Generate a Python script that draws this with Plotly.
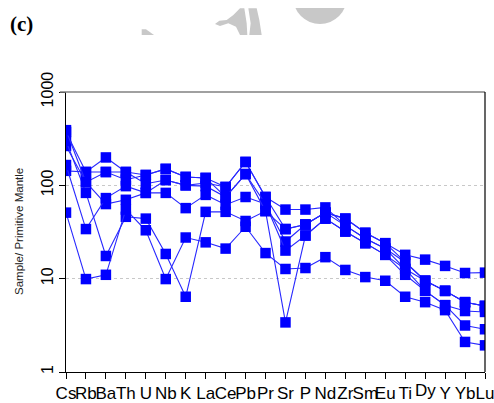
import plotly.graph_objects as go

elements = ["Cs", "Rb", "Ba", "Th", "U", "Nb", "K", "La", "Ce", "Pb", "Pr",
            "Sr", "P", "Nd", "Zr", "Sm", "Eu", "Ti", "Dy", "Y", "Yb", "Lu"]

s1 = [143, 139, 139, 139, 129, 150, 123, 120, 96, 178, 75, 34, 38, 51, 44, 31, 24, 18, 16, 13.7, 11.5, 11.6]
s2 = [373, 139, 199, 139, 104, 114, 100, 106, 96, 178, 75, 55, 55, 58, 37, 27, 21, 15, 9.5, 7.4, 5.6, 5.1]
s3 = [264, 108, 63, 70, 83, 114, 100, 98, 75, 132, 63, 25, 38, 51, 37, 27, 21, 12.7, 9.5, 7.4, 5.6, 5.1]
s4 = [165, 34, 73, 98, 83, 83, 57, 79, 62, 75, 63, 20, 29, 44, 32, 24, 18, 12.7, 7.4, 5.2, 4.5, 4.4]
s5 = [300, 83, 17.5, 46, 44, 18.4, 6.4, 52, 52, 41.5, 53, 3.4, 29, 44, 32, 24, 18, 11, 7.4, 5.2, 3.15, 2.87]
s6 = [51, 9.9, 11, 55, 33, 9.9, 27.6, 24.5, 21, 36, 18.8, 12.7, 13, 17, 12.4, 10.4, 9.5, 6.4, 5.6, 4.6, 2.1, 1.93]
s7 = [390, 108, 139, 115, 129, 150, 123, 120, 75, 132, 53, 34, 38, 51, 44, 31, 24, 15, 9.5, 7.4, 5.6, 5.1]
samples = [s1, s2, s3, s4, s5, s6, s7]

y_ticks = [1, 10, 100, 1000]
y_title = "Sample/ Primitive Mantle"
panel_label = "(c)"

W, H = 494, 403
L, R, T, B = 66, 485, 92, 372


def fx(px):
    return (px - L) / (R - L)


def fy(py):
    return (B - py) / (B - T)


xs = list(range(len(elements)))
fig = go.Figure()
for s in samples:
    fig.add_trace(go.Scatter(
        x=xs, y=s, mode="lines+markers",
        line=dict(color="rgb(40,40,255)", width=1.1),
        marker=dict(symbol="square", size=10.5, color="#0000ff", line=dict(width=0)),
        showlegend=False, hoverinfo="skip"))

ticktext = [e if e != "Dy" else "" for e in elements]

fig.update_layout(
    width=W, height=H,
    margin=dict(l=L, r=W - R, t=T, b=H - B, autoexpand=False),
    paper_bgcolor="white", plot_bgcolor="white",
    font=dict(family="Liberation Sans, Arial, sans-serif", color="black"),
    xaxis=dict(range=[0, len(elements) - 1], tickmode="array", tickvals=xs,
               ticktext=ticktext, ticks="outside", ticklen=6, tickcolor="black",
               showline=True, linecolor="black", linewidth=1, showgrid=False,
               zeroline=False, tickfont=dict(size=17), tickangle=0,
               automargin=False, ticklabeloverflow="allow"),
    yaxis=dict(type="log", range=[0, 3], tickmode="array", tickvals=y_ticks,
               ticktext=[str(v) for v in y_ticks], ticks="outside", ticklen=6,
               tickcolor="black", showline=True, linecolor="black", linewidth=1,
               showgrid=True, gridcolor="#c8c8c8", griddash="dot", gridwidth=1,
               zeroline=False, tickfont=dict(size=16), tickangle=-90,
               automargin=False, ticklabeloverflow="allow"),
)

shapes = []
# top grey border, including the 1000 tick
shapes.append(dict(type="line", xref="paper", yref="paper", x0=fx(60), x1=1, y0=1, y1=1,
                   line=dict(color="#808080", width=1.5), layer="above"))
# right border
shapes.append(dict(type="line", xref="paper", yref="paper", x0=1, x1=1, y0=0, y1=1,
                   line=dict(color="black", width=1.2), layer="above"))


def poly(pts):
    d = "M " + " L ".join(f"{fx(x):.4f},{fy(y):.4f}" for x, y in pts) + " Z"
    return dict(type="path", xref="paper", yref="paper", path=d,
                fillcolor="#c8c8c8", line=dict(width=0), layer="above")


# faint watermark fragments at the top
shapes.append(poly([(141.7, 29.3), (146, 29.3), (154, 35), (141.7, 35)]))
z1 = [(465, 72), (478, 62), (500, 60), (520, 45), (540, 25), (553, 25), (560, 70),
      (562, 105), (540, 105), (528, 80), (505, 70), (480, 78)]
shapes.append(poly([(x / 3 + 60, y / 3) for x, y in z1]))
z2 = [(565, 25), (590, 25), (598, 60), (605, 105), (568, 105), (572, 70)]
shapes.append(poly([(x / 3 + 60, y / 3) for x, y in z2]))
shapes.append(dict(type="circle", xref="paper", yref="paper", x0=fx(293), x1=fx(347),
                   y0=fy(24), y1=fy(-30), fillcolor="#c8c8c8", line=dict(width=0),
                   layer="above"))
shapes.append(dict(type="rect", xref="paper", yref="paper", x0=fx(280), x1=fx(360),
                   y0=fy(8), y1=fy(-40), fillcolor="white", line=dict(width=0),
                   layer="above"))
fig.update_layout(shapes=shapes)

fig.add_annotation(x=elements.index("Dy"), y=0, xref="x", yref="paper", text="Dy",
                   showarrow=False, yanchor="top", yshift=-7,
                   font=dict(size=17, color="black"))
fig.add_annotation(x=fx(19), y=0.5, xref="paper", yref="paper", text=y_title,
                   textangle=-90, showarrow=False, xanchor="center", yanchor="middle",
                   font=dict(size=11.5, color="#222"))
fig.add_annotation(x=fx(21.5), y=fy(24), xref="paper", yref="paper",
                   text="<b>" + panel_label + "</b>", showarrow=False,
                   xanchor="center", yanchor="middle",
                   font=dict(family="Liberation Serif, Times New Roman, serif",
                             size=21, color="black"))

fig.write_html("out.html")
